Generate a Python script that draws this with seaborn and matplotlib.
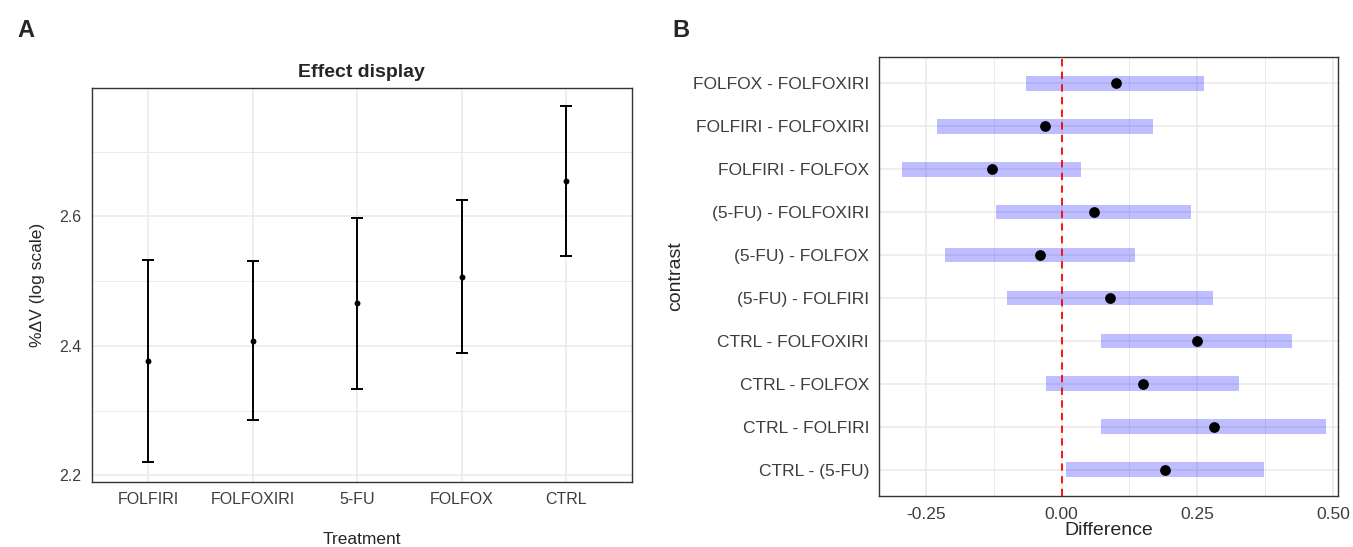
import numpy as np
import pandas as pd
import matplotlib
matplotlib.use("Agg")
import matplotlib.pyplot as plt
import seaborn as sns
from matplotlib.ticker import MultipleLocator

# -------------------------------
# Data
# -------------------------------
treatments = ["FOLFIRI", "FOLFOXIRI", "5-FU", "FOLFOX", "CTRL"]
effect_fit = [2.377, 2.408, 2.466, 2.507, 2.655]
effect_lower = [2.220, 2.285, 2.333, 2.389, 2.539]
effect_upper = [2.533, 2.531, 2.597, 2.625, 2.770]

contrasts = ["FOLFOX - FOLFOXIRI", "FOLFIRI - FOLFOXIRI", "FOLFIRI - FOLFOX",
             "(5-FU) - FOLFOXIRI", "(5-FU) - FOLFOX", "(5-FU) - FOLFIRI",
             "CTRL - FOLFOXIRI", "CTRL - FOLFOX", "CTRL - FOLFIRI", "CTRL - (5-FU)"]
diff = [0.100, -0.030, -0.128, 0.059, -0.040, 0.090, 0.249, 0.150, 0.280, 0.191]
diff_lower = [-0.065, -0.229, -0.293, -0.121, -0.215, -0.101, 0.073, -0.028, 0.073, 0.009]
diff_upper = [0.263, 0.168, 0.035, 0.238, 0.135, 0.279, 0.424, 0.327, 0.487, 0.373]

df_a = pd.DataFrame({"Treatment": treatments, "fit": effect_fit,
                     "lower": effect_lower, "upper": effect_upper})
df_b = pd.DataFrame({"contrast": contrasts, "Difference": diff,
                     "lower": diff_lower, "upper": diff_upper})

sns.set_theme(style="white")
plt.rcParams["font.family"] = ["Liberation Sans", "DejaVu Sans"]

fig = plt.figure(figsize=(13.53, 5.47), dpi=100)
ax_a = fig.add_axes([0.068, 0.119, 0.399, 0.720])
ax_b = fig.add_axes([0.650, 0.093, 0.339, 0.803])

grid_col = "#ebebeb"
tick_col = "#3d3d3d"

def style_box(ax):
    for s in ax.spines.values():
        s.set_color("#333333")
        s.set_linewidth(1.0)
        s.set_visible(True)
    ax.tick_params(axis="both", colors="#333333", length=4, width=0.8,
                   labelcolor=tick_col, direction="out")
    ax.grid(which="major", color=grid_col, linewidth=1.2)
    ax.grid(which="minor", color=grid_col, linewidth=0.7)
    ax.set_axisbelow(True)

# -------------------------------
# Panel A: effect display
# -------------------------------
x_a = np.arange(len(treatments))
ax_a.errorbar(x_a, df_a["fit"],
              yerr=[df_a["fit"] - df_a["lower"], df_a["upper"] - df_a["fit"]],
              fmt="none", ecolor="black", elinewidth=1.4, capsize=4, capthick=1.4)
sns.scatterplot(x=x_a, y=df_a["fit"], ax=ax_a, color="black", s=18,
                edgecolor="black", linewidth=0, zorder=3)
ax_a.set_xticks(x_a)
ax_a.set_xticklabels(treatments, fontsize=11.5)
ax_a.set_xlim(-0.54, 4.63)
ax_a.set_ylim(2.19, 2.798)
ax_a.yaxis.set_major_locator(MultipleLocator(0.2))
ax_a.yaxis.set_minor_locator(MultipleLocator(0.1))
ax_a.yaxis.set_major_formatter(matplotlib.ticker.FormatStrFormatter("%.1f"))
style_box(ax_a)
ax_a.tick_params(axis="y", labelsize=11.5)
ax_a.tick_params(axis="y", which="minor", length=0)
ax_a.set_title("Effect display", fontsize=14, fontweight="bold", pad=8)
ax_a.set_xlabel("Treatment", fontsize=12.5, labelpad=18)
ax_a.set_ylabel("%ΔV (log scale)", fontsize=12.5, labelpad=10)

# -------------------------------
# Panel B: pairwise contrasts
# -------------------------------
y_b = np.arange(len(contrasts))[::-1]
ax_b.barh(y_b, df_b["upper"] - df_b["lower"], left=df_b["lower"], height=0.34,
          color="blue", alpha=0.26, linewidth=0, zorder=2)
sns.scatterplot(x=df_b["Difference"], y=y_b, ax=ax_b, color="black", s=60,
                edgecolor="black", linewidth=0, zorder=3)
ax_b.axvline(0, color="red", linestyle=(0, (4, 3)), linewidth=1.3, zorder=2.5)
ax_b.set_yticks(y_b)
ax_b.set_yticklabels(contrasts, fontsize=12.5)
ax_b.set_ylim(-0.62, 9.62)
ax_b.set_xlim(-0.335, 0.509)
ax_b.xaxis.set_major_locator(MultipleLocator(0.25))
ax_b.xaxis.set_minor_locator(MultipleLocator(0.125))
ax_b.xaxis.set_major_formatter(matplotlib.ticker.FormatStrFormatter("%.2f"))
style_box(ax_b)
ax_b.tick_params(axis="x", labelsize=12.5)
ax_b.tick_params(axis="x", which="minor", length=0)
ax_b.set_xlabel("Difference", fontsize=14, labelpad=0)
ax_b.set_ylabel("contrast", fontsize=14, labelpad=6)

fig.text(0.013, 0.945, "A", fontsize=17, fontweight="bold", va="center")
fig.text(0.497, 0.945, "B", fontsize=17, fontweight="bold", va="center")

fig.savefig("out.png", dpi=100, facecolor="white")
